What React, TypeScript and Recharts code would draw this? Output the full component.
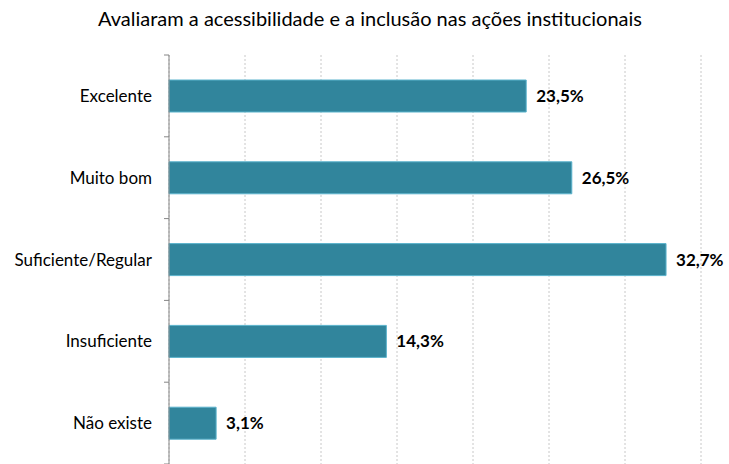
import { BarChart, Bar, XAxis, YAxis, CartesianGrid, LabelList } from 'recharts'

const title = 'Avaliaram a acessibilidade e a inclusão nas ações institucionais'
const categories = ['Excelente', 'Muito bom', 'Suficiente/Regular', 'Insuficiente', 'Não existe']
const values = [23.5, 26.5, 32.7, 14.3, 3.1]
const xTicks = [0, 5, 10, 15, 20, 25, 30, 35]

const data = categories.map((name, i) => ({ name, value: values[i] }))

const font = 'Lato, "Open Sans", sans-serif'

// Excel-style ticks: label at band center, small tick mark at band boundaries
function CategoryTick(props: any) {
  const { x, y, payload, index } = props
  const half = payload.offset || 0
  const axisX = x + 17
  return (
    <g>
      <text x={x} y={y} dy={6} textAnchor="end" fill="#000" fontSize={17} fontFamily={font}>
        {payload.value}
      </text>
      <line x1={axisX - 5} x2={axisX} y1={y - half} y2={y - half} stroke="#868686" />
      {index === categories.length - 1 && (
        <line x1={axisX - 5} x2={axisX} y1={y + half} y2={y + half} stroke="#868686" />
      )}
    </g>
  )
}

function EmptyTick() {
  return <g />
}

export default function App() {
  return (
    <div style={{ position: 'absolute', left: 0, top: 0, width: 729, height: 464, background: '#fff', fontFamily: font }}>
      <div
        style={{
          position: 'absolute',
          top: 6,
          left: 0,
          width: 740,
          textAlign: 'center',
          fontSize: 20,
          color: '#000',
        }}
      >
        {title}
      </div>
      <BarChart
        width={729}
        height={464}
        data={data}
        layout="vertical"
        margin={{ top: 55, right: 28, bottom: 0, left: 0 }}
      >
        <CartesianGrid horizontal={false} stroke="#c8c8c8" strokeDasharray="2 2" />
        <XAxis
          type="number"
          domain={[0, 35]}
          ticks={xTicks}
          interval={0}
          height={0}
          tick={<EmptyTick />}
          axisLine={false}
          tickLine={false}
        />
        <YAxis
          type="category"
          dataKey="name"
          width={169}
          tickSize={5}
          tickMargin={12}
          tickLine={false}
          axisLine={{ stroke: '#868686' }}
          tick={<CategoryTick />}
        />
        <Bar dataKey="value" fill="#31859C" stroke="#5BB3CC" strokeWidth={1} barSize={32} isAnimationActive={false}>
          <LabelList
            dataKey="value"
            position="right"
            offset={10}
            formatter={(v: any) => `${String(v).replace('.', ',')}%`}
            style={{ fontWeight: 700, fontSize: 17, fill: '#000', fontFamily: font }}
          />
        </Bar>
      </BarChart>
    </div>
  )
}
